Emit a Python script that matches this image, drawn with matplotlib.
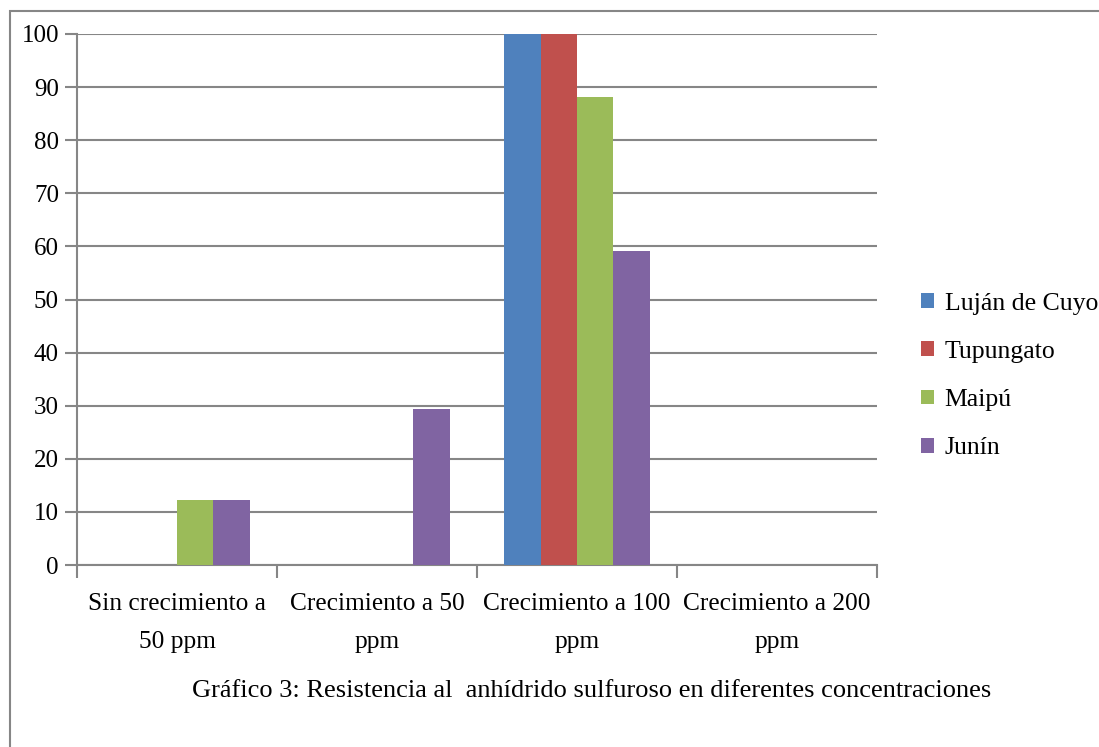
import numpy as np
import matplotlib
matplotlib.use("Agg")
import matplotlib.pyplot as plt
from matplotlib.patches import Rectangle

plt.rcParams["font.family"] = ["Liberation Serif", "DejaVu Serif"]

categories = ["Sin crecimiento a\n50 ppm", "Crecimiento a 50\nppm",
              "Crecimiento a 100\nppm", "Crecimiento a 200\nppm"]
series = ["Luján de Cuyo", "Tupungato", "Maipú", "Junín"]
lujan = [0, 0, 100, 0]
tupungato = [0, 0, 100, 0]
maipu = [12.3, 0, 88.2, 0]
junin = [12.3, 29.3, 59.1, 0]
colors = ["#4F81BD", "#C0504D", "#9BBB59", "#8064A2"]
caption = "Gráfico 3: Resistencia al  anhídrido sulfuroso en diferentes concentraciones"

W, H = 1099, 747
fig = plt.figure(figsize=(W / 100, H / 100), dpi=100)
grid_col = "#868686"

# outer chart frame (cut off at right and bottom like the source)
fig.patches.append(Rectangle((10 / W, -0.1), 1.2, 1 - 11 / H + 0.1,
                             transform=fig.transFigure, fill=False,
                             edgecolor=grid_col, linewidth=1.5))

ax = fig.add_axes([77 / W, 1 - 565 / H, 800 / W, 531 / H])

x = np.arange(len(categories))
width = 1 / 5.5
handles = []
for i, (vals, name) in enumerate(zip([lujan, tupungato, maipu, junin], series)):
    b = ax.bar(x + (i - 1.5) * width, vals, width, color=colors[i],
               label=name, zorder=3)
    handles.append(b)

ax.set_xlim(-0.5, len(categories) - 0.5)
ax.set_ylim(0, 100)
ax.set_yticks(np.arange(0, 101, 10))
ax.yaxis.grid(True, color=grid_col, linewidth=1.5, zorder=0)
ax.set_axisbelow(True)
ax.tick_params(axis="y", length=9, width=1.5, color=grid_col,
               labelsize=18, pad=4)

ax.set_xticks(x)
ax.set_xticklabels(categories, fontsize=18.3, linespacing=1.97)
ax.set_xticks(np.arange(-0.5, len(categories)), minor=True)
ax.tick_params(axis="x", which="major", length=0, pad=20)
ax.tick_params(axis="x", which="minor", length=9, width=1.5, color=grid_col)

for s in ["top", "right"]:
    ax.spines[s].set_visible(False)
for s in ["left", "bottom"]:
    ax.spines[s].set_color(grid_col)
    ax.spines[s].set_linewidth(1.5)

ax.legend(handles=handles, loc="center left", frameon=False,
          bbox_to_anchor=(921 / W, 1 - 376 / H), bbox_transform=fig.transFigure,
          fontsize=18.5, handlelength=0.52, handleheight=0.52,
          handletextpad=0.4, labelspacing=1.02, borderpad=0, borderaxespad=0)

fig.text(592 / W, 1 - 691 / H, caption, ha="center", va="center", fontsize=19)

fig.savefig("out.png", dpi=100)
